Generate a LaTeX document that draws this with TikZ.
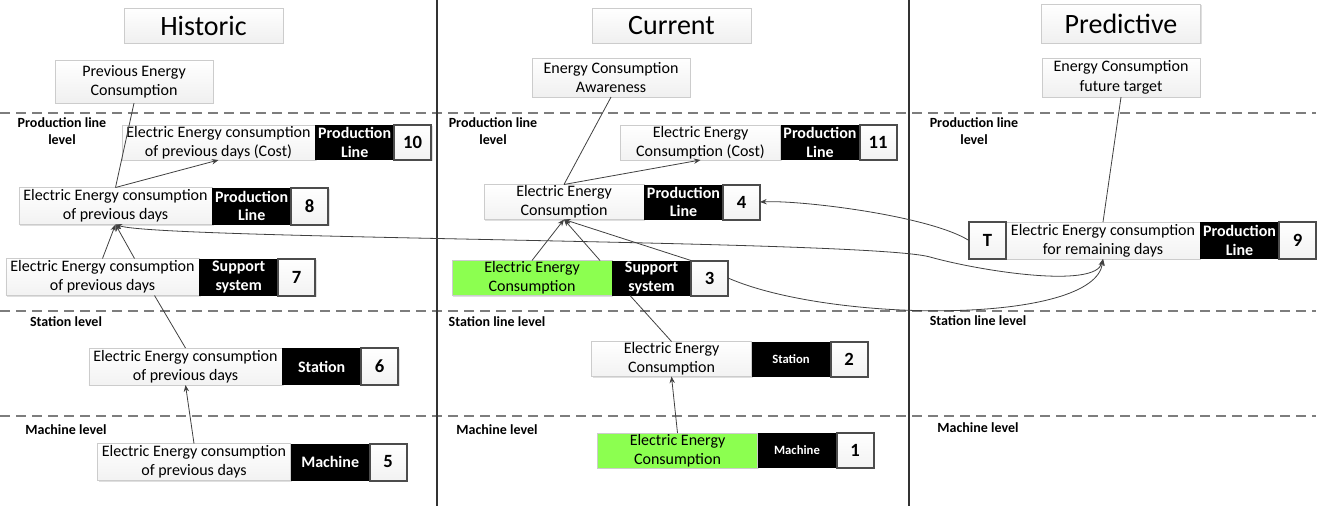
\documentclass[tikz,border=0pt]{standalone}
\usepackage{fontspec}
\setmainfont{Carlito}
\usepackage{tikz}
\usetikzlibrary{arrows.meta, positioning, calc, shadows}
\definecolor{litgreen}{RGB}{140,255,80}
\definecolor{rulegray}{RGB}{125,125,125}

\begin{document}
\begin{tikzpicture}[
  x=0.75pt, y=-0.75pt,
  >={Stealth[length=5pt,width=4pt]},
  shade/.style={drop shadow={shadow xshift=1pt, shadow yshift=-1pt, opacity=0.25}},
  head/.style={draw=gray!40, top color=white, bottom color=gray!12, shade, minimum width=119pt, minimum height=26pt, inner sep=0pt, font=\fontsize{21}{23}\selectfont},
  note/.style={draw=gray!40, top color=white, bottom color=gray!12, shade, minimum width=118.5pt, minimum height=29pt, inner sep=1pt, align=center, font=\fontsize{12}{14.5}\selectfont},
  part/.style={minimum height=27.75pt, inner sep=0pt, outer sep=0pt, align=center},
  txt/.style={part, draw=gray!40, top color=white, bottom color=gray!10, shade, minimum width=145pt, font=\fontsize{12}{14.5}\selectfont},
  gtxt/.style={part, draw=gray!40, fill=litgreen, shade, minimum width=120pt, font=\fontsize{12}{14.5}\selectfont},
  cur/.style={minimum width=120pt, minimum height=26.25pt},
  tag/.style={part, fill=black, text=white, minimum width=59.25pt, font=\bfseries\fontsize{12}{14}\selectfont},
  small/.style={font=\bfseries\fontsize{9.5}{11}\selectfont},
  num/.style={part, draw=black!70, line width=1.5pt, top color=white, bottom color=gray!10, shade, minimum width=27.75pt, font=\bfseries\fontsize{14}{16}\selectfont},
  lvl/.style={align=center, font=\bfseries\fontsize{10.5}{13}\selectfont},
  conn/.style={draw=black!75, line width=0.6pt},
  layer/.style={rulegray, line width=1.2pt, dash pattern=on 7.5pt off 4.5pt},
  column/.style={black!80, line width=1.6pt}
]
\useasboundingbox (0,0) rectangle (1326,506);

% levels and columns
\draw[layer] (0,113) -- (1316,113);
\draw[layer] (0,311) -- (1316,311);
\draw[layer] (0,416) -- (1316,416);
\draw[column] (437,0) -- (437,506);
\draw[column] (909,0) -- (909,506);

\node[head] (hist) at (203.5,25.5) {Historic};
\node[head] (curr) at (671.5,25.5) {Current};
\node[head, minimum height=29pt] (pred) at (1121,23.5) {Predictive};

\node[lvl] (plH) at (62,131) {Production line\\level};
\node[lvl] (slH) at (66,322) {Station level};
\node[lvl] (mlH) at (66,430) {Machine level};
\node[lvl] (plC) at (493,131) {Production line\\level};
\node[lvl] (slC) at (497,322) {Station line level};
\node[lvl] (mlC) at (497,430) {Machine level};
\node[lvl] (plP) at (974,131) {Production line\\level};
\node[lvl] (slP) at (978,321) {Station line level};
\node[lvl] (mlP) at (978,428) {Machine level};

\node[note, minimum height=32pt] (prev) at (134,81.5) {Previous Energy\\Consumption};
\node[note] (aware) at (611,77.5) {Energy Consumption\\Awareness};
\node[note] (target) at (1121,77.5) {Energy Consumption\\future target};

% historic
\node[txt, minimum height=26.25pt] (t10) at (218.5,142.5) {Electric Energy consumption\\of previous days (Cost)};
\node[tag, minimum height=26.25pt, right=0pt of t10] (p10) {Production\\Line};
\node[num, minimum height=26.25pt, right=0pt of p10] (n10) {10};

\node[txt] (t8) at (115.5,206) {Electric Energy consumption\\of previous days};
\node[tag, right=0pt of t8] (p8) {Production\\Line};
\node[num, right=0pt of p8] (n8) {8};

\node[txt] (t7) at (102.5,277) {Electric Energy consumption\\of previous days};
\node[tag, right=0pt of t7] (p7) {Support\\system};
\node[num, right=0pt of p7] (n7) {7};

\node[txt] (t6) at (185.5,366.5) {Electric Energy consumption\\of previous days};
\node[tag, right=0pt of t6] (p6) {Station};
\node[num, right=0pt of p6] (n6) {6};

\node[txt] (t5) at (194,462) {Electric Energy consumption\\of previous days};
\node[tag, right=0pt of t5] (p5) {Machine};
\node[num, right=0pt of p5] (n5) {5};

% current
\node[txt, cur] (t11) at (700.5,142.5) {Electric Energy\\Consumption (Cost)};
\node[tag, cur, minimum width=59.25pt, right=0pt of t11] (p11) {Production\\Line};
\node[num, cur, minimum width=27.75pt, right=0pt of p11] (n11) {11};

\node[txt, cur] (t4) at (564,202) {Electric Energy\\Consumption};
\node[tag, cur, minimum width=59.25pt, right=0pt of t4] (p4) {Production\\Line};
\node[num, cur, minimum width=27.75pt, right=0pt of p4] (n4) {4};

\node[gtxt, cur] (t3) at (532,278) {Electric Energy\\Consumption};
\node[tag, cur, minimum width=59.25pt, right=0pt of t3] (p3) {Support\\system};
\node[num, cur, minimum width=27.75pt, right=0pt of p3] (n3) {3};

\node[txt, cur] (t2) at (671.5,359) {Electric Energy\\Consumption};
\node[tag, small, cur, minimum width=59.25pt, right=0pt of t2] (p2) {Station};
\node[num, cur, minimum width=27.75pt, right=0pt of p2] (n2) {2};

\node[gtxt, cur] (t1) at (677.5,450.5) {Electric Energy\\Consumption};
\node[tag, small, cur, minimum width=59.25pt, right=0pt of t1] (p1) {Machine};
\node[num, cur, minimum width=27.75pt, right=0pt of p1] (n1) {1};

% predictive
\node[txt, minimum width=145.5pt] (t9) at (1103,240.5) {Electric Energy consumption\\for remaining days};
\node[tag, right=0pt of t9] (p9) {Production\\Line};
\node[num, right=0pt of p9] (n9) {9};
\node[num, left=0pt of t9] (nT) {T};

\coordinate (bend) at (930,257);

\draw[conn] (prev.south) -- (t8.north);
\draw[conn, ->] (t8.north) -- (t10.south);
\draw[conn, ->] (t7.north) -- (t8.south);
\draw[conn, ->] ($(t7.north)+(32,0)$) -- (t8.south);
\draw[conn] (t6.north) -- ($(t7.south)+(52,0)$);
\draw[conn, ->] (t5.north) -- (t6.south);

\draw[conn] (aware.south) -- (t4.north);
\draw[conn, ->] (t4.north) -- (t11.south);
\draw[conn, ->] (t3.north) -- (t4.south);
\draw[conn, ->] ($(t3.north)+(68,0)$) -- (t4.south);
\draw[conn, ->] (p3.north east) -- (t4.south);
\draw[conn] (t2.north) -- ($(p3.south west)+(18,0)$);
\draw[conn, ->] (t1.north) -- (t2.south);

\draw[conn] (target.south) -- (t9.north);
\draw[conn, ->] (nT.west) .. controls +(-40,-25) and +(40,-2) .. (n4.east);
\draw[conn, <->] (t8.south) .. controls +(45,15) and +(-60,-17) .. (bend) .. controls +(50,14) and +(-8,30) .. (t9.south);
\draw[conn, ->] (n3.east) .. controls +(103,45) and +(-8,66) .. (t9.south);
\end{tikzpicture}
\end{document}
